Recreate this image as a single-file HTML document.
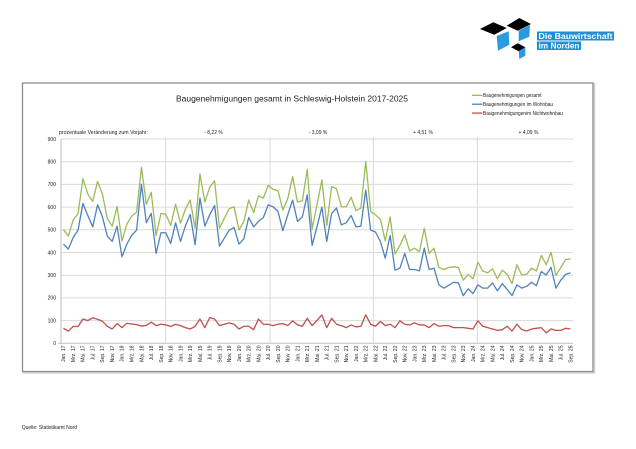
<!DOCTYPE html>
<html><head><meta charset="utf-8"><style>
html,body{margin:0;padding:0;background:#fff;}
svg{display:block;}
text{font-family:"Liberation Sans",Arial,sans-serif;fill:#222;}
</style></head><body>
<svg width="636" height="449" viewBox="0 0 636 449" xmlns="http://www.w3.org/2000/svg">
<rect width="636" height="449" fill="#fff"/>
<!-- Logo -->
<g>
<polygon points="480,29 493.3,22.3 506.7,28 494.3,34.7" fill="#000"/>
<polygon points="496.7,36 508.7,31.3 509.3,44.7 498,50.7" fill="#2a9be0"/>
<polygon points="506.7,25.7 519.3,18 531,24 517.7,30.7" fill="#000"/>
<polygon points="518.7,30.7 530,24.7 529.3,36.7 518.7,41.3" fill="#2a9be0"/>
<polygon points="511,47.3 517.7,43.3 525.3,47.3 518.7,51.3" fill="#000"/>
<polygon points="518.7,51.3 525.3,47.3 525.3,55.7 519.3,59" fill="#2a9be0"/>
<rect x="537" y="31.5" width="77" height="9" fill="#1e8fd6"/>
<rect x="537" y="41.5" width="44" height="8.5" fill="#1e8fd6"/>
<text x="538.5" y="39.2" font-size="8" font-weight="bold" style="fill:#fff" textLength="74" lengthAdjust="spacingAndGlyphs">Die Bauwirtschaft</text>
<text x="538.5" y="48.7" font-size="8" font-weight="bold" style="fill:#fff" textLength="41" lengthAdjust="spacingAndGlyphs">im Norden</text>
</g>
<!-- Frame -->
<rect x="23.5" y="84" width="571" height="289" fill="none" stroke="#d0d0d0" stroke-width="1.5"/>
<rect x="22.5" y="83" width="570.5" height="288.5" fill="#fff" stroke="#8c8c8c" stroke-width="1.3"/>
<!-- Title -->
<text x="176" y="101.3" font-size="8" textLength="232" lengthAdjust="spacingAndGlyphs">Baugenehmigungen gesamt in Schleswig-Holstein 2017-2025</text>
<!-- Legend -->
<line x1="472" y1="95.3" x2="482.5" y2="95.3" stroke="#9bbb59" stroke-width="1.3"/>
<line x1="472" y1="104.2" x2="482.5" y2="104.2" stroke="#4f81bd" stroke-width="1.3"/>
<line x1="472" y1="113.1" x2="482.5" y2="113.1" stroke="#c0504d" stroke-width="1.3"/>
<text x="483" y="97" font-size="5" textLength="58.5" lengthAdjust="spacingAndGlyphs">Baugenehmigungen gesamt</text>
<text x="483" y="105.9" font-size="5" textLength="70" lengthAdjust="spacingAndGlyphs">Baugenehmigungen im Wohnbau</text>
<text x="483" y="114.8" font-size="5" textLength="80" lengthAdjust="spacingAndGlyphs">Baugenehmigungenim Nichtwohnbau</text>
<!-- percent labels -->
<text x="59" y="134" font-size="5" textLength="89" lengthAdjust="spacingAndGlyphs">prozentuale Veränderung zum Vorjahr:</text>
<g font-size="5" text-anchor="middle">
<text x="213.5" y="134">- 8,22 %</text>
<text x="318" y="134">- 3,09 %</text>
<text x="423" y="134">+ 4,51 %</text>
<text x="528.5" y="134">+ 4,09 %</text>
</g>
<!-- gridlines -->
<g stroke="#d9d9d9" stroke-width="1">
<line x1="61" y1="139" x2="573" y2="139"/>
<line x1="61" y1="161.7" x2="573" y2="161.7"/>
<line x1="61" y1="184.4" x2="573" y2="184.4"/>
<line x1="61" y1="207.1" x2="573" y2="207.1"/>
<line x1="61" y1="229.8" x2="573" y2="229.8"/>
<line x1="61" y1="252.5" x2="573" y2="252.5"/>
<line x1="61" y1="275.2" x2="573" y2="275.2"/>
<line x1="61" y1="297.9" x2="573" y2="297.9"/>
<line x1="61" y1="320.6" x2="573" y2="320.6"/>
<line x1="165.7" y1="137" x2="165.7" y2="343.3"/>
<line x1="270" y1="137" x2="270" y2="343.3"/>
<line x1="373.3" y1="137" x2="373.3" y2="343.3"/>
<line x1="477.3" y1="137" x2="477.3" y2="343.3"/>
</g>
<g stroke="#bfbfbf" stroke-width="1">
<line x1="61" y1="139" x2="61" y2="343.3"/>
<line x1="58" y1="343.3" x2="573" y2="343.3"/>
</g>
<!-- y labels -->
<g font-size="5" text-anchor="end">
<text x="56" y="140.8">900</text>
<text x="56" y="163.5">800</text>
<text x="56" y="186.2">700</text>
<text x="56" y="208.9">600</text>
<text x="56" y="231.6">500</text>
<text x="56" y="254.3">400</text>
<text x="56" y="277">300</text>
<text x="56" y="299.7">200</text>
<text x="56" y="322.4">100</text>
<text x="56" y="345.1">0</text>
</g>
<!-- series -->
<g transform="translate(63.44,343.3) scale(4.876,-0.227)" fill="none" stroke-linejoin="round">
<polyline vector-effect="non-scaling-stroke" stroke="#c0504d" stroke-width="1.3" points="0,66 1,54 2,74 3,74 4,107 5,100 6,112 7,106 8,97 9,75 10,63 11,87 12,69 13,88 14,85 15,82 16,76 17,79 18,93 19,78 20,84 21,81 22,74 23,84 24,78 25,69 26,63 27,75 28,107 29,69 30,113 31,107 32,78 33,84 34,90 35,84 36,63 37,75 38,75 39,60 40,107 41,84 42,84 43,78 44,84 45,87 46,78 47,99 48,81 49,75 50,110 51,78 52,101 53,125 54,69 55,110 56,84 57,78 58,69 59,81 60,72 61,75 62,125 63,84 64,75 65,96 66,78 67,84 68,69 69,99 70,84 71,81 72,90 73,81 74,81 75,69 76,87 77,75 78,78 79,78 80,69 81,69 82,69 83,66 84,63 85,99 86,75 87,69 88,63 89,57 90,60 91,75 92,54 93,84 94,60 95,54 96,63 97,66 98,69 99,46 100,63 101,57 102,57 103,66 104,63"/>
<polyline vector-effect="non-scaling-stroke" stroke="#4f81bd" stroke-width="1.3" points="0,437 1,415 2,466 3,499 4,616 5,563 6,513 7,610 8,557 9,472 10,449 11,516 12,381 13,437 14,475 15,499 16,701 17,531 18,572 19,396 20,487 21,487 22,440 23,531 24,449 25,516 26,568 27,434 28,640 29,516 30,566 31,607 32,428 33,463 34,499 35,510 36,437 37,460 38,554 39,513 40,537 41,554 42,610 43,601 44,581 45,496 46,566 47,631 48,537 49,557 50,654 51,431 52,513 53,600 54,449 55,572 56,596 57,522 58,531 59,563 60,513 61,516 62,675 63,499 64,490 65,449 66,375 67,475 68,322 69,331 70,396 71,325 72,325 73,319 74,419 75,325 76,331 77,257 78,243 79,255 80,269 81,266 82,210 83,240 84,219 85,257 86,243 87,243 88,266 89,231 90,263 91,237 92,210 93,257 94,243 95,251 96,269 97,254 98,316 99,301 100,334 101,243 102,278 103,304 104,310"/>
<polyline vector-effect="non-scaling-stroke" stroke="#9bbb59" stroke-width="1.3" points="0,501 1,472 2,543 3,572 4,725 5,657 6,625 7,713 8,657 9,549 10,516 11,603 12,451 13,525 14,560 15,578 16,775 17,613 18,665 19,475 20,572 21,569 22,519 23,613 24,529 25,590 26,631 27,507 28,746 29,622 30,687 31,716 32,507 33,551 34,593 35,601 36,499 37,537 38,631 39,575 40,649 41,640 42,696 43,678 44,672 45,587 46,637 47,734 48,622 49,628 50,766 51,504 52,610 53,720 54,519 55,690 56,681 57,601 58,601 59,643 60,584 61,596 62,801 63,581 64,566 65,546 66,451 67,557 68,393 69,431 70,478 71,407 72,419 73,404 74,507 75,396 76,419 77,334 78,325 79,334 80,337 81,334 82,278 83,304 84,284 85,357 86,319 87,310 88,328 89,284 90,322 91,304 92,263 93,346 94,301 95,304 96,331 97,319 98,387 99,346 100,401 101,299 102,334 103,369 104,372"/>
</g>
<!-- x labels -->
<g font-size="5" text-anchor="end">
<text transform="translate(65.2,345.5) rotate(-90)">Jan. 17</text>
<text transform="translate(75.0,345.5) rotate(-90)">Mrz. 17</text>
<text transform="translate(84.7,345.5) rotate(-90)">Mai. 17</text>
<text transform="translate(94.5,345.5) rotate(-90)">Jul. 17</text>
<text transform="translate(104.2,345.5) rotate(-90)">Sep. 17</text>
<text transform="translate(114.0,345.5) rotate(-90)">Nov. 17</text>
<text transform="translate(123.7,345.5) rotate(-90)">Jan. 18</text>
<text transform="translate(133.5,345.5) rotate(-90)">Mrz. 18</text>
<text transform="translate(143.3,345.5) rotate(-90)">Mai. 18</text>
<text transform="translate(153.0,345.5) rotate(-90)">Jul. 18</text>
<text transform="translate(162.8,345.5) rotate(-90)">Sep. 18</text>
<text transform="translate(172.5,345.5) rotate(-90)">Nov. 18</text>
<text transform="translate(182.3,345.5) rotate(-90)">Jan. 19</text>
<text transform="translate(192.0,345.5) rotate(-90)">Mrz. 19</text>
<text transform="translate(201.8,345.5) rotate(-90)">Mai. 19</text>
<text transform="translate(211.5,345.5) rotate(-90)">Jul. 19</text>
<text transform="translate(221.3,345.5) rotate(-90)">Sep. 19</text>
<text transform="translate(231.0,345.5) rotate(-90)">Nov. 19</text>
<text transform="translate(240.8,345.5) rotate(-90)">Jan. 20</text>
<text transform="translate(250.5,345.5) rotate(-90)">Mrz. 20</text>
<text transform="translate(260.3,345.5) rotate(-90)">Mai. 20</text>
<text transform="translate(270.0,345.5) rotate(-90)">Jul. 20</text>
<text transform="translate(279.8,345.5) rotate(-90)">Sep. 20</text>
<text transform="translate(289.5,345.5) rotate(-90)">Nov. 20</text>
<text transform="translate(299.3,345.5) rotate(-90)">Jan. 21</text>
<text transform="translate(309.0,345.5) rotate(-90)">Mrz. 21</text>
<text transform="translate(318.8,345.5) rotate(-90)">Mai. 21</text>
<text transform="translate(328.5,345.5) rotate(-90)">Jul. 21</text>
<text transform="translate(338.3,345.5) rotate(-90)">Sep. 21</text>
<text transform="translate(348.1,345.5) rotate(-90)">Nov. 21</text>
<text transform="translate(357.8,345.5) rotate(-90)">Jan. 22</text>
<text transform="translate(367.6,345.5) rotate(-90)">Mrz. 22</text>
<text transform="translate(377.3,345.5) rotate(-90)">Mai. 22</text>
<text transform="translate(387.1,345.5) rotate(-90)">Jul. 22</text>
<text transform="translate(396.8,345.5) rotate(-90)">Sep. 22</text>
<text transform="translate(406.6,345.5) rotate(-90)">Nov. 22</text>
<text transform="translate(416.3,345.5) rotate(-90)">Jan. 23</text>
<text transform="translate(426.1,345.5) rotate(-90)">Mrz. 23</text>
<text transform="translate(435.8,345.5) rotate(-90)">Mai. 23</text>
<text transform="translate(445.6,345.5) rotate(-90)">Jul. 23</text>
<text transform="translate(455.3,345.5) rotate(-90)">Sep. 23</text>
<text transform="translate(465.1,345.5) rotate(-90)">Nov. 23</text>
<text transform="translate(474.8,345.5) rotate(-90)">Jan. 24</text>
<text transform="translate(484.6,345.5) rotate(-90)">Mrz. 24</text>
<text transform="translate(494.3,345.5) rotate(-90)">Mai. 24</text>
<text transform="translate(504.1,345.5) rotate(-90)">Jul. 24</text>
<text transform="translate(513.8,345.5) rotate(-90)">Sep. 24</text>
<text transform="translate(523.6,345.5) rotate(-90)">Nov. 24</text>
<text transform="translate(533.3,345.5) rotate(-90)">Jan. 25</text>
<text transform="translate(543.1,345.5) rotate(-90)">Mrz. 25</text>
<text transform="translate(552.8,345.5) rotate(-90)">Mai. 25</text>
<text transform="translate(562.6,345.5) rotate(-90)">Jul. 25</text>
<text transform="translate(572.3,345.5) rotate(-90)">Sep. 25</text>
</g>
<!-- source -->
<text x="21.7" y="428.8" font-size="5">Quelle: Statistikamt Nord</text>
</svg>
</body></html>
